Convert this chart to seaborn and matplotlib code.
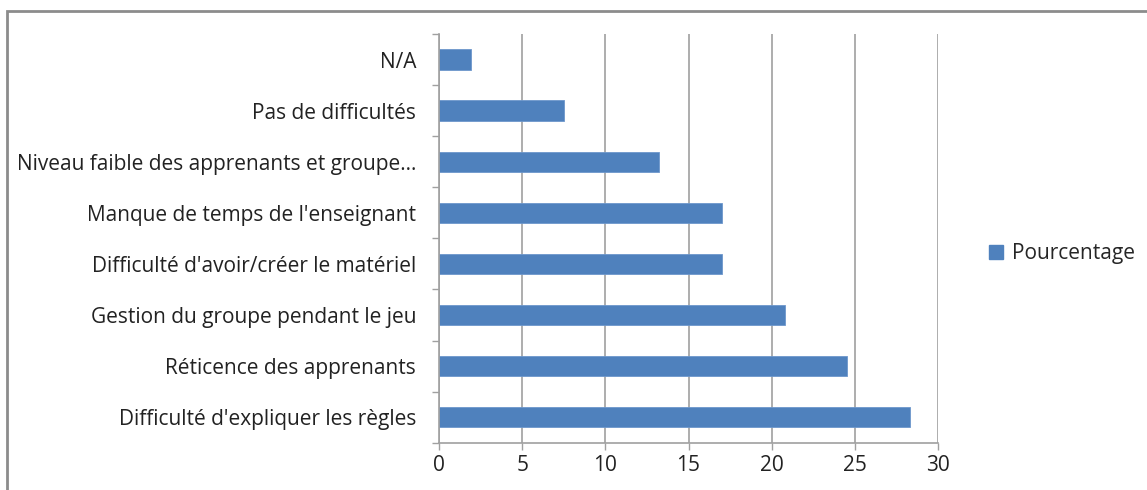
import matplotlib
matplotlib.use("Agg")
import matplotlib.pyplot as plt
import seaborn as sns
import pandas as pd
from matplotlib.patches import Rectangle, Patch

categories = [
    "N/A",
    "Pas de difficultés",
    "Niveau faible des apprenants et groupe…",
    "Manque de temps de l'enseignant",
    "Difficulté d'avoir/créer le matériel",
    "Gestion du groupe pendant le jeu",
    "Réticence des apprenants",
    "Difficulté d'expliquer les règles",
]
values = [1.9, 7.5, 13.2, 17.0, 17.0, 20.8, 24.5, 28.3]
series_name = "Pourcentage"
x_ticks = [0, 5, 10, 15, 20, 25, 30]

sns.set_theme(style="white")
plt.rcParams["font.family"] = ["Open Sans", "DejaVu Sans"]

df = pd.DataFrame({"cat": categories, "val": values})

fig = plt.figure(figsize=(11.47, 4.90), dpi=100)
ax = fig.add_axes([439/1147, 1-442.7/490, (938-439)/1147, (442.7-34)/490])

bar_color = "#4F81BD"
sns.barplot(data=df, y="cat", x="val", orient="h", color=bar_color,
            width=0.4, ax=ax, saturation=1, edgecolor="#6D97CC", linewidth=0.6)

fs = 15
ax.set_xlim(0, 30)
ax.set_ylim(7.5, -0.5)
ax.set_xticks(x_ticks)
ax.set_xticklabels([str(t) for t in x_ticks], fontsize=fs, color="#222222")
ax.set_xlabel("")
ax.set_ylabel("")
ax.tick_params(axis="y", which="major", length=0, pad=16.5, labelsize=fs, labelcolor="#222222")
ax.set_yticks([i - 0.5 for i in range(len(categories) + 1)], minor=True)
ax.tick_params(axis="y", which="minor", length=5, width=1, color="#A0A0A0", left=True)
ax.tick_params(axis="x", which="major", length=5, width=1, color="#A0A0A0", bottom=True, pad=4)

ax.grid(axis="x", color="#A0A0A0", linewidth=1.2)
ax.grid(axis="y", visible=False)
ax.set_axisbelow(True)
for side in ["top", "right"]:
    ax.spines[side].set_visible(False)
for side in ["left", "bottom"]:
    ax.spines[side].set_color("#A0A0A0")
    ax.spines[side].set_linewidth(1.2)

# outer chart frame
fig.patches.append(Rectangle((7/1147, -0.05), 1.2, 1 - 11/490 + 0.05,
                             transform=fig.transFigure, fill=False,
                             edgecolor="#8C8C8C", linewidth=2.0))

handles = [Patch(facecolor=bar_color, edgecolor=bar_color, label=series_name)]
fig.legend(handles=handles, loc="center left", bbox_to_anchor=(981/1147, 1-254/490),
           frameon=False, fontsize=fs, handlelength=0.65, handleheight=0.65,
           handletextpad=0.45, borderaxespad=0)

fig.savefig("out.png", dpi=100)
